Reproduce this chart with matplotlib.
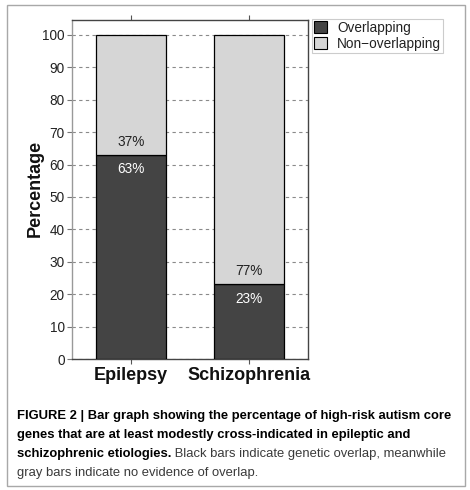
import matplotlib
matplotlib.use("Agg")
import matplotlib.pyplot as plt
from matplotlib.patches import Rectangle, Patch

# ---- data ----
categories = ["Epilepsy", "Schizophrenia"]
overlapping = [63, 23]
non_overlapping = [37, 77]
series_names = ["Overlapping", "Non\u2212overlapping"]
yticks = [0, 10, 20, 30, 40, 50, 60, 70, 80, 90, 100]

caption_bold_1 = "FIGURE 2 | Bar graph showing the percentage of high-risk autism core"
caption_bold_2 = "genes that are at least modestly cross-indicated in epileptic and"
caption_bold_3 = "schizophrenic etiologies."
caption_reg_3 = " Black bars indicate genetic overlap, meanwhile"
caption_reg_4 = "gray bars indicate no evidence of overlap."

plt.rcParams['font.family'] = ['Liberation Sans', 'DejaVu Sans']

W, H = 470, 490
fig = plt.figure(figsize=(W / 100, H / 100), dpi=100)

# outer frame
fig.patches.append(Rectangle((6.5 / W, 1 - 486 / H), (465 - 6.5) / W, (486 - 5) / H,
                             transform=fig.transFigure, fill=False,
                             edgecolor="#a8a8a8", linewidth=1.0))

ax = fig.add_axes([72 / W, 1 - 359 / H, (308 - 72) / W, (359 - 20) / H])

dark = "#444444"
light = "#d6d6d6"
x = list(range(len(categories)))
ax.bar(x, overlapping, width=0.6, color=dark, edgecolor="black", linewidth=0.9, zorder=3,
       label=series_names[0])
ax.bar(x, non_overlapping, width=0.6, bottom=overlapping, color=light, edgecolor="black",
       linewidth=0.9, zorder=3, label=series_names[1])

for xi, o, n in zip(x, overlapping, non_overlapping):
    ax.annotate(f"{n}%", xy=(xi, o), xytext=(0, 9.5), textcoords="offset points",
                ha="center", va="center", fontsize=9.8, color="#222222", zorder=4)
    ax.annotate(f"{o}%", xy=(xi, o), xytext=(0, -10.5), textcoords="offset points",
                ha="center", va="center", fontsize=9.8, color="white", zorder=4)

ax.set_xlim(-0.5, 1.5)
ax.set_ylim(0, 104.6)
ax.set_yticks(yticks)
ax.set_yticklabels([str(t) for t in yticks], fontsize=9.8, color="#222222")
ax.yaxis.grid(True, linestyle=(0, (3, 3)), color="#8a8a8a", linewidth=0.8, zorder=0)
ax.set_axisbelow(True)

ax.set_xticks(x)
ax.set_xticklabels(categories, fontsize=13, fontweight="bold", color="#111111")
ax.tick_params(axis="x", top=True, bottom=True, direction="out", length=3.5,
               color="#555555", width=0.8, pad=2)
ax.tick_params(axis="y", direction="out", length=3.8, color="#777777", width=0.8, pad=1.5)

for side in ["top", "right", "bottom"]:
    ax.spines[side].set_color("#444444")
    ax.spines[side].set_linewidth(1.0)
ax.spines["left"].set_color("#999999")
ax.spines["left"].set_linewidth(1.0)

fig.text(35 / W, 1 - 188 / H, "Percentage", rotation=90, ha="center", va="center",
         fontsize=13, fontweight="bold", color="#111111")

handles = [Patch(facecolor=dark, edgecolor="black", linewidth=0.8),
           Patch(facecolor=light, edgecolor="black", linewidth=0.8)]
leg = ax.legend(handles, series_names, loc="upper left",
                bbox_to_anchor=(1.017, 1.003), borderaxespad=0,
                fontsize=9.8, frameon=True, fancybox=False, framealpha=1,
                edgecolor="#cccccc", handlelength=0.95, handleheight=0.95,
                handletextpad=0.75, labelspacing=0.12, borderpad=0.15)
leg.get_frame().set_linewidth(0.8)
for t in leg.get_texts():
    t.set_color("#222222")

# caption
cap_fs = 9.4
x0 = 17 / W
baselines = [419, 438, 457, 476]
fig.text(x0, 1 - baselines[0] / H, caption_bold_1, fontsize=cap_fs, fontweight="bold",
         va="baseline", ha="left", color="black")
fig.text(x0, 1 - baselines[1] / H, caption_bold_2, fontsize=cap_fs, fontweight="bold",
         va="baseline", ha="left", color="black")
tb = fig.text(x0, 1 - baselines[2] / H, caption_bold_3, fontsize=cap_fs, fontweight="bold",
              va="baseline", ha="left", color="black")
fig.text(x0, 1 - baselines[3] / H, caption_reg_4, fontsize=cap_fs, va="baseline",
         ha="left", color="#3a3a3a")
ax.annotate(caption_reg_3, xy=(1, 0), xycoords=tb, va="bottom", ha="left",
            fontsize=cap_fs, color="#3a3a3a", annotation_clip=False)

fig.savefig("out.png", dpi=100)
